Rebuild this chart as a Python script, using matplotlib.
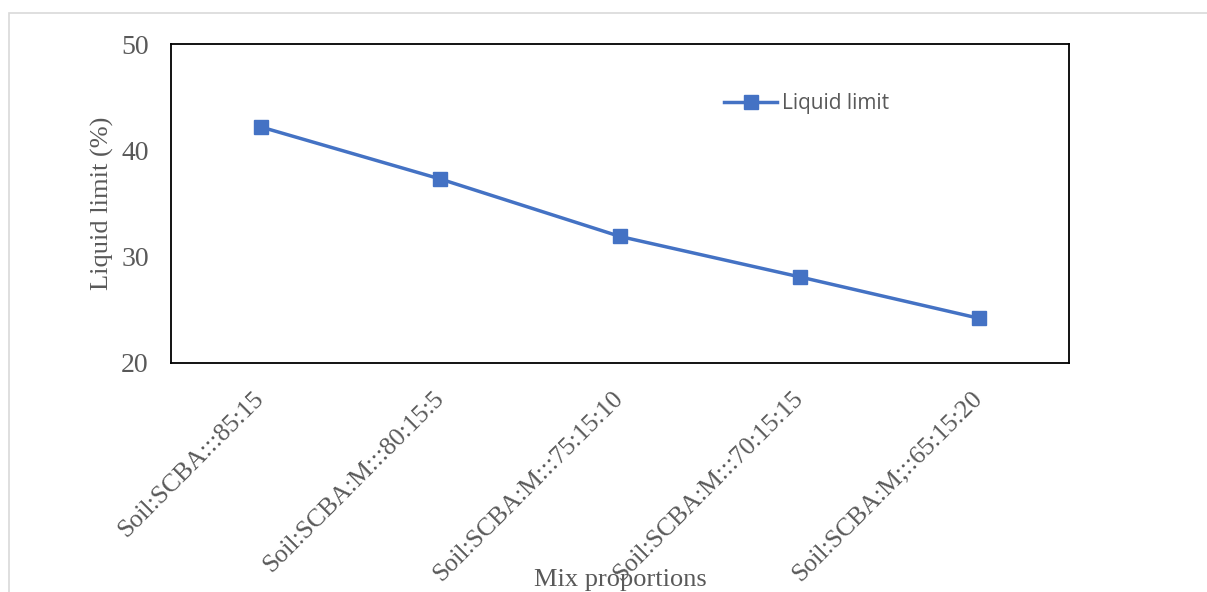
import matplotlib.pyplot as plt
from matplotlib.patches import Rectangle

mixes = ["Soil:SCBA:::85:15", "Soil:SCBA:M:::80:15:5", "Soil:SCBA:M:::75:15:10",
         "Soil:SCBA:M:::70:15:15", "Soil:SCBA:M;::65:15:20"]
liquid_limit = [42.2, 37.3, 31.9, 28.1, 24.2]

grey = "#595959"
blue = "#4472C4"

fig = plt.figure(figsize=(12.07, 5.92), dpi=100)
# light frame around the chart area
fig.patches.append(Rectangle((9 / 1207, -0.1), 1.2, (592 - 13) / 592 + 0.1,
                             transform=fig.transFigure, fill=False,
                             edgecolor="#d9d9d9", linewidth=1.2))

ax = fig.add_axes([171 / 1207, (592 - 363) / 592, 898 / 1207, 319 / 592])
x = list(range(len(mixes)))
ax.plot(x, liquid_limit, color=blue, linewidth=2.5, marker="s", markersize=10,
        label="Liquid limit")

ax.set_xlim(-0.5, len(mixes) - 0.5)
ax.set_ylim(20, 50)
ax.set_yticks([20, 30, 40, 50])
ax.set_xticks(x)
ax.set_xticklabels(mixes, rotation=45, ha="right", va="center",
                   rotation_mode="anchor", family="Liberation Serif",
                   fontsize=18.5, color=grey)
for lab in ax.get_yticklabels():
    lab.set_family("Liberation Serif")
    lab.set_fontsize(20)
    lab.set_color(grey)
ax.tick_params(axis="both", length=0)
ax.tick_params(axis="y", pad=16)
ax.tick_params(axis="x", pad=23)
for s in ax.spines.values():
    s.set_linewidth(1.3)
    s.set_color("black")

ax.set_ylabel("Liquid limit (%)", family="Liberation Serif", fontsize=19,
              color=grey)
ax.yaxis.set_label_coords(-0.064, 0.5)
ax.set_xlabel("Mix proportions", family="Liberation Serif", fontsize=19,
              color=grey)
ax.xaxis.set_label_coords(0.5, -0.645)

ax.legend(loc="center left", bbox_to_anchor=(0.595, 0.812), frameon=False,
          prop={"family": "Open Sans", "size": 15}, labelcolor=grey,
          handlelength=2.55, handletextpad=0.25)

fig.savefig("out.png", dpi=100)
